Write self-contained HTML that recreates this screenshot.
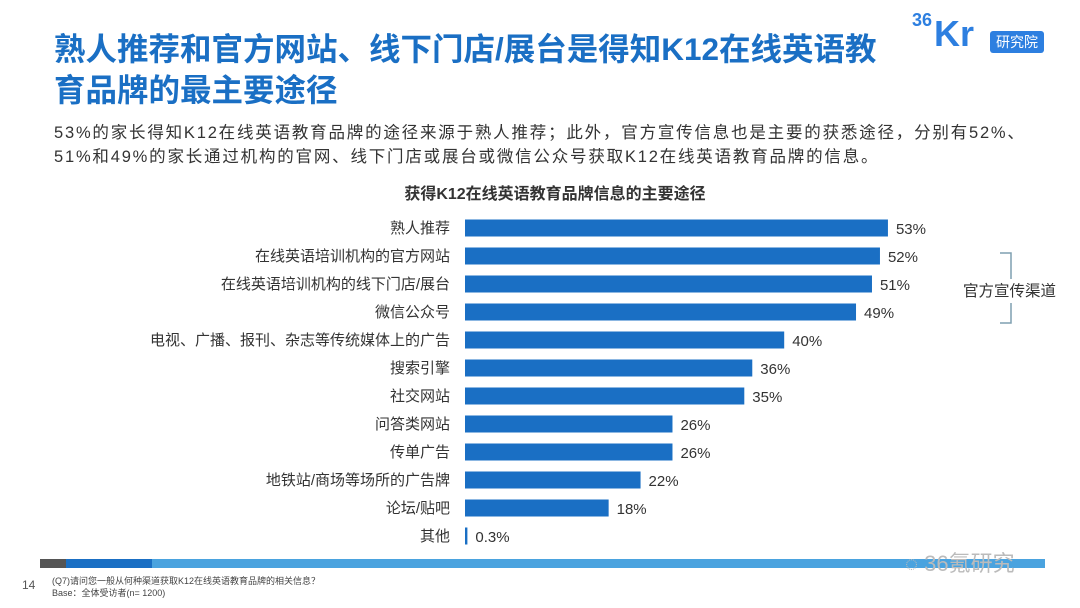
<!DOCTYPE html>
<html><head><meta charset="utf-8"><style>
body{margin:0;width:1080px;height:608px;background:#fff;overflow:hidden;position:relative;font-family:"Liberation Sans","Noto Sans CJK SC",sans-serif;}
.abs{position:absolute;}
</style></head><body>
<div class="abs" style="left:54px;top:29px;font-size:31.5px;line-height:41px;font-weight:bold;color:#1a6fc4;white-space:nowrap;">熟人推荐和官方网站、线下门店/展台是得知K12在线英语教<br>育品牌的最主要途径</div>
<div class="abs" style="left:912px;top:10px;height:42px;">
<span style="position:absolute;left:0;top:0;font-size:18px;font-weight:bold;color:#2d7fe0;">36</span>
<span style="position:absolute;left:22px;top:6px;font-size:36px;font-weight:bold;color:#2d7fe0;line-height:36px;">Kr</span>
<span style="position:absolute;left:78px;top:21px;background:#2d7fe0;color:#fff;font-size:14px;padding:1px 6px;border-radius:3px;white-space:nowrap;">研究院</span>
</div>
<div class="abs" style="left:54px;top:121px;font-size:16.5px;letter-spacing:1.8px;line-height:24px;color:#333;white-space:nowrap;">53%的家长得知K12在线英语教育品牌的途径来源于熟人推荐；此外，官方宣传信息也是主要的获悉途径，分别有52%、<br>51%和49%的家长通过机构的官网、线下门店或展台或微信公众号获取K12在线英语教育品牌的信息。</div>
<div class="abs" style="left:0;width:1110px;top:180px;text-align:center;font-size:16px;font-weight:bold;color:#333;">获得K12在线英语教育品牌信息的主要途径</div>
<svg id="chart" class="abs" style="left:0;top:0;" width="1080" height="608"></svg>
<div class="abs" style="left:40px;top:559px;width:1005px;height:9px;background:#4aa3df;">
<div style="position:absolute;left:0;top:0;width:26px;height:9px;background:#555;"></div>
<div style="position:absolute;left:26px;top:0;width:86px;height:9px;background:#1a6fc4;"></div>
</div>
<div class="abs" style="left:905px;top:546px;font-size:22px;color:#bbb;">◌ 36氪研究</div>
<div class="abs" style="left:22px;top:578px;font-size:12px;color:#555;">14</div>
<div class="abs" style="left:52px;top:575px;font-size:9px;line-height:12px;color:#444;">(Q7)请问您一般从何种渠道获取K12在线英语教育品牌的相关信息？<br>Base：全体受访者(n= 1200)</div>
<script>
const categories=["熟人推荐","在线英语培训机构的官方网站","在线英语培训机构的线下门店/展台","微信公众号","电视、广播、报刊、杂志等传统媒体上的广告","搜索引擎","社交网站","问答类网站","传单广告","地铁站/商场等场所的广告牌","论坛/贴吧","其他"];
const values=[53,52,51,49,40,36,35,26,26,22,18,0.3];
const labels=["53%","52%","51%","49%","40%","36%","35%","26%","26%","22%","18%","0.3%"];
const svg=document.getElementById('chart');const NS='http://www.w3.org/2000/svg';
const x0=465,pxPer=7.98,y0=228,step=28,bh=17;
function xs(v){return x0+v*pxPer;}
function yc(i){return y0+i*step;}
categories.forEach((c,i)=>{
 const r=document.createElementNS(NS,'rect');
 
 
 r.setAttribute('x',x0);r.setAttribute('y',yc(i)-bh/2);r.setAttribute('width',Math.max(1.5,xs(values[i])-x0));r.setAttribute('height',bh);r.setAttribute('fill','#1a6fc4');svg.appendChild(r);
 const t=document.createElementNS(NS,'text');
 
 
 t.setAttribute('x',450);t.setAttribute('y',yc(i)+5);t.setAttribute('text-anchor','end');t.setAttribute('font-size','15');t.setAttribute('fill','#333');t.textContent=c;svg.appendChild(t);
 const v=document.createElementNS(NS,'text');
 
 
 v.setAttribute('x',Math.max(xs(values[i]),x0+1.5)+8);v.setAttribute('y',yc(i)+6);v.setAttribute('font-size','15');v.setAttribute('fill','#333');v.textContent=labels[i];svg.appendChild(v);
});
const b=document.createElementNS(NS,'path');


b.setAttribute('d','M1000 253 L1011 253 L1011 323 L1000 323');b.setAttribute('fill','none');b.setAttribute('stroke','#7f9fb0');b.setAttribute('stroke-width','1.5');svg.appendChild(b);
const bg=document.createElementNS(NS,'rect');


bg.setAttribute('x',960);bg.setAttribute('y',279);bg.setAttribute('width',100);bg.setAttribute('height',24);bg.setAttribute('fill','#fff');svg.appendChild(bg);
const bt=document.createElementNS(NS,'text');


bt.setAttribute('x',963);bt.setAttribute('y',296);bt.setAttribute('font-size','15.5');bt.setAttribute('fill','#333');bt.textContent='官方宣传渠道';svg.appendChild(bt);
</script>
</body></html>
